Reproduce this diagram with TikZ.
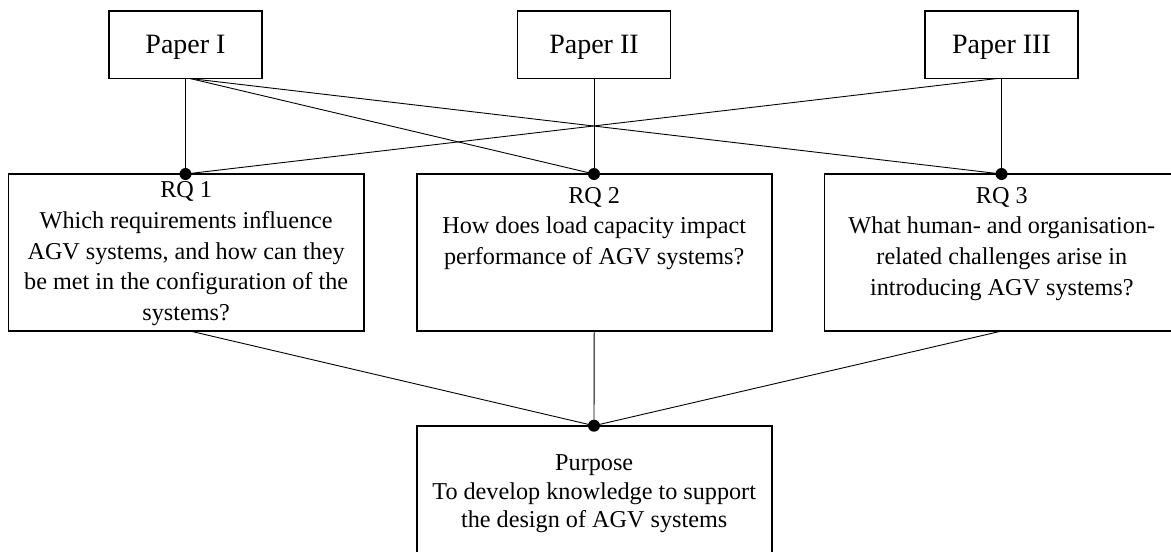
\documentclass[tikz,border=0pt]{standalone}
\usepackage{fontspec}
\setmainfont{Liberation Serif}
\usetikzlibrary{calc,backgrounds}
\newcommand{\topbox}[4]{\begin{minipage}[c][#2][t]{#1}\centering\fontsize{24.2}{30.8}\selectfont\rule{0pt}{#3}#4\end{minipage}}
\begin{document}
\begin{tikzpicture}[x=1pt,y=-1pt,
  box/.style={draw=black, line width=1.6pt, inner sep=0pt, outer sep=0pt, anchor=north west},
  paper/.style={box, minimum width=153pt, minimum height=67.5pt, font=\fontsize{28}{32}\selectfont, text depth=0pt},
  conn/.style={line width=0.9pt},
  dot/.style={circle, fill=black, inner sep=0pt, minimum size=12pt}]
\useasboundingbox (0,0) rectangle (1171,552);
\clip (0,0) rectangle (1171,552);
% papers
\node[paper] (p1) at (109,11) {Paper I};
\node[paper] (p2) at (517.5,11) {Paper II};
\node[paper] (p3) at (925,11) {Paper III};
% research questions
\node[box] (rq1) at (8.3,174) {\topbox{355.7pt}{157pt}{23.5pt}{RQ 1\\ Which requirements influence\\ AGV systems, and how can they\\ be met in the configuration of the\\ systems?}};
\node[box] (rq2) at (416.7,174) {\topbox{355pt}{157pt}{29pt}{RQ 2\\ How does load capacity impact\\ performance of AGV systems?}};
\node[box] (rq3) at (824.3,174) {\topbox{355pt}{157pt}{29pt}{RQ 3\\ What human- and organisation-\\ related challenges arise in\\ introducing AGV systems?}};
% purpose
\node[box] (pur) at (416.7,425.7) {\begin{minipage}[c][160pt][t]{355pt}\centering\fontsize{24.2}{28.3}\selectfont\rule{0pt}{45pt}Purpose\\ To develop knowledge to support\\ the design of AGV systems\end{minipage}};
% junction dots
\node[dot] (d1) at (p1.south |- rq1.north) {};
\node[dot] (d2) at (p2.south |- rq2.north) {};
\node[dot] (d3) at (p3.south |- rq3.north) {};
\node[dot] (d4) at (p2.south |- pur.north) {};
\coordinate (p1o) at ($(p1.south)+(4.5,0)$);
\coordinate (p3o) at ($(p3.south)+(-4.3,0)$);
\coordinate (r1o) at ($(rq1.south)+(3.8,0)$);
\begin{pgfonlayer}{background}
\draw[conn] (p1.south) -- (d1.center);
\draw[conn] (p2.south) -- (d2.center);
\draw[conn] (p3.south) -- (d3.center);
\draw[conn] (p1o) -- (d2.center);
\draw[conn] (p1o) -- (d3.center);
\draw[conn] (p3o) -- (d1.center);
\draw[conn] (r1o) -- (d4.center);
\draw[conn] (rq2.south) -- (d4.center);
\draw[conn] (rq3.south) -- (d4.center);
\end{pgfonlayer}
\end{tikzpicture}
\end{document}
